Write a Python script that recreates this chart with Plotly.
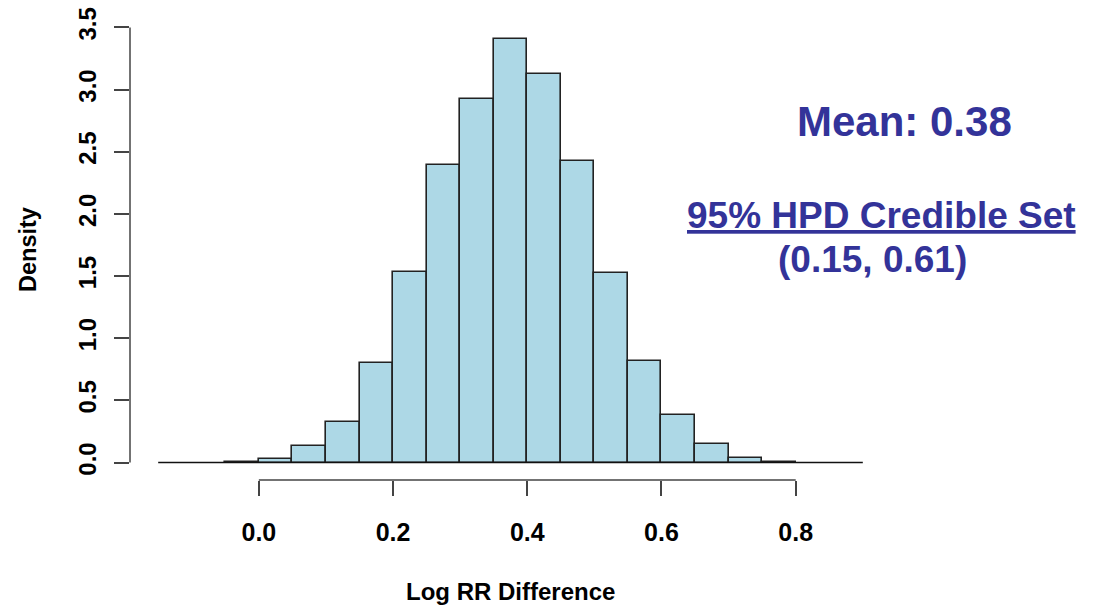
import plotly.graph_objects as go

# Histogram of posterior draws: bin edges (width 0.05) and density heights
bin_left = [-0.05, 0.00, 0.05, 0.10, 0.15, 0.20, 0.25, 0.30, 0.35,
            0.40, 0.45, 0.50, 0.55, 0.60, 0.65, 0.70, 0.75]
density = [0.006, 0.029, 0.13, 0.325, 0.797, 1.534, 2.394, 2.927, 3.408,
           3.122, 2.426, 1.524, 0.819, 0.381, 0.147, 0.04, 0.008]
bin_width = 0.05

x_ticks = [0.0, 0.2, 0.4, 0.6, 0.8]
x_tick_text = ["0.0", "0.2", "0.4", "0.6", "0.8"]
y_ticks = [0.0, 0.5, 1.0, 1.5, 2.0, 2.5, 3.0, 3.5]
y_tick_text = ["0.0", "0.5", "1.0", "1.5", "2.0", "2.5", "3.0", "3.5"]

x_lim = [-0.15, 0.9]
y_lim = [0.0, 3.5]

mean_val = 0.38
hpd = (0.15, 0.61)

FONT = "Liberation Sans, Arial, Helvetica, sans-serif"
TEXT_BLUE = "#333399"
AXIS_GREY = "#444444"

centers = [b + bin_width / 2 for b in bin_left]

fig = go.Figure()
fig.add_trace(go.Bar(
    x=centers,
    y=density,
    width=[bin_width] * len(centers),
    marker=dict(color="#ADD8E6", line=dict(color="#222222", width=1.6)),
    hoverinfo="skip",
    showlegend=False,
))

# R-style plot region: limits padded by 4% on each side
def pad(lim):
    span = lim[1] - lim[0]
    return [lim[0] - 0.04 * span, lim[1] + 0.04 * span]

fig.update_layout(
    width=1095,
    height=605,
    margin=dict(l=130, r=204, t=7, b=125),
    paper_bgcolor="white",
    plot_bgcolor="white",
    bargap=0,
    font=dict(family=FONT, color="black"),
    xaxis=dict(
        range=pad(x_lim),
        showgrid=False, zeroline=False, showline=False,
        ticks="outside", ticklen=15, tickwidth=1.5, tickcolor=AXIS_GREY,
        tickvals=x_ticks, ticktext=x_tick_text,
        tickfont=dict(family=FONT, size=25, weight="bold", color="black"),
        ticklabelstandoff=15,
        fixedrange=True,
    ),
    yaxis=dict(
        range=pad(y_lim),
        showgrid=False, zeroline=False, showline=False,
        ticks="outside", ticklen=15, tickwidth=1.5, tickcolor=AXIS_GREY,
        tickvals=y_ticks, ticktext=y_tick_text, tickangle=-90,
        tickfont=dict(family=FONT, size=24, weight="bold", color="black"),
        ticklabelstandoff=8,
        fixedrange=True,
    ),
)

# Axis lines spanning only the tick range, plus the zero baseline
fig.add_shape(type="line", xref="x", yref="paper",
              x0=x_ticks[0], x1=x_ticks[-1], y0=0, y1=0,
              line=dict(color=AXIS_GREY, width=1.5))
fig.add_shape(type="line", xref="paper", yref="y",
              x0=0, x1=0, y0=y_ticks[0], y1=y_ticks[-1],
              line=dict(color=AXIS_GREY, width=1.5))
fig.add_shape(type="line", xref="x", yref="y",
              x0=x_lim[0], x1=x_lim[1], y0=0, y1=0,
              line=dict(color="#111111", width=1.5), layer="above")

# Axis titles
fig.add_annotation(text="Density", xref="paper", yref="paper",
                   x=-0.135, y=0.49, textangle=-90, showarrow=False,
                   xanchor="center", yanchor="middle",
                   font=dict(family=FONT, size=23.5, weight="bold", color="black"))
fig.add_annotation(text="Log RR Difference", xref="paper", yref="paper",
                   x=0.5, y=-0.237, showarrow=False,
                   xanchor="center", yanchor="middle",
                   font=dict(family=FONT, size=24, weight="bold", color="black"))

# Summary statistics
fig.add_annotation(text=f"Mean: {mean_val:.2f}", xref="paper", yref="paper",
                   x=1.018, y=0.763, showarrow=False,
                   xanchor="center", yanchor="middle",
                   font=dict(family=FONT, size=42, weight="bold", color=TEXT_BLUE))
fig.add_annotation(text="<u>95% HPD Credible Set</u>", xref="paper", yref="paper",
                   x=0.987, y=0.562, showarrow=False,
                   xanchor="center", yanchor="middle",
                   font=dict(family=FONT, size=37, weight="bold", color=TEXT_BLUE))
fig.add_annotation(text=f"({hpd[0]:.2f}, {hpd[1]:.2f})", xref="paper", yref="paper",
                   x=0.976, y=0.469, showarrow=False,
                   xanchor="center", yanchor="middle",
                   font=dict(family=FONT, size=37, weight="bold", color=TEXT_BLUE))

fig.write_html("out.html")
